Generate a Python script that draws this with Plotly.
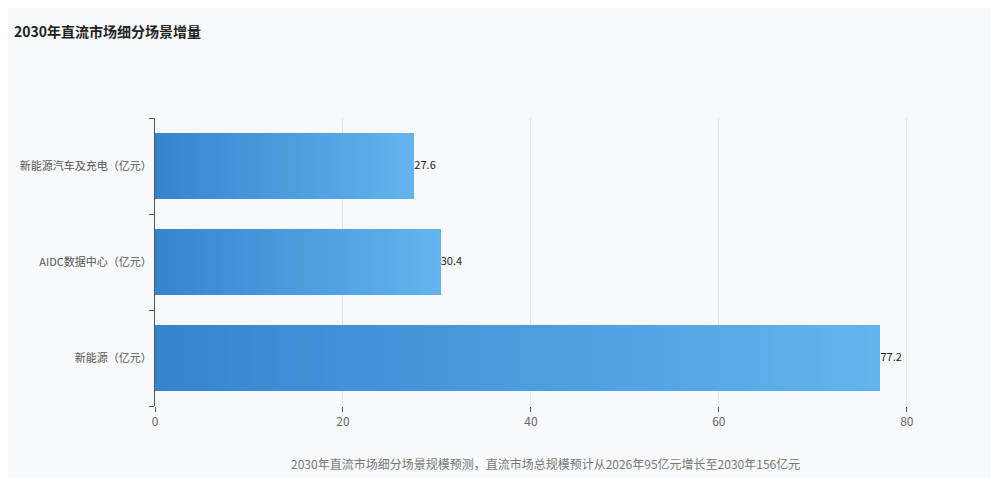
import plotly.graph_objects as go

categories = ["新能源（亿元）", "AIDC数据中心（亿元）", "新能源汽车及充电（亿元）"]
values = [77.2, 30.4, 27.6]
title = "2030年直流市场细分场景增量"
note = "2030年直流市场细分场景规模预测，直流市场总规模预计从2026年95亿元增长至2030年156亿元"

N = 60
c0 = (52, 133, 206)
c1 = (99, 179, 237)
fig = go.Figure()
for i in range(N):
    t = i / (N - 1)
    col = "rgb(%d,%d,%d)" % tuple(round(a + (b - a) * t) for a, b in zip(c0, c1))
    fig.add_trace(go.Bar(y=categories, x=[v / N for v in values], orientation="h",
                         marker=dict(color=col, line=dict(width=0)), showlegend=False,
                         hoverinfo="skip"))
fig.add_trace(go.Scatter(y=categories, x=values, mode="text", text=[str(v) for v in values],
                         textposition="middle right", textfont=dict(size=11, color="#222"),
                         showlegend=False, cliponaxis=False))
fig.update_layout(
    barmode="stack", bargap=0.31, width=999, height=478,
    paper_bgcolor="#f8f9fb", plot_bgcolor="#f8f9fb",
    margin=dict(l=139, r=72, t=110, b=80),
    font=dict(family="Noto Sans CJK SC, sans-serif", size=11, color="#555"),
    title=dict(text="<b>" + title + "</b>", x=0.006, y=0.96, xanchor="left",
               font=dict(size=14, color="#222")),
    xaxis=dict(range=[0, 83], tickvals=[0, 20, 40, 60, 80], showgrid=True, gridcolor="#e3e3e3",
               zeroline=False, ticks="outside", ticklen=5, tickcolor="#555", showline=False,
               tickfont=dict(size=12, color="#666")),
    yaxis=dict(showline=True, linecolor="#555", ticks="outside", tickson="boundaries",
               ticklen=5, tickcolor="#555", tickfont=dict(size=11, color="#555")),
    annotations=[dict(text=note, x=0.5, xref="paper", y=-0.2, yref="paper", showarrow=False,
                      font=dict(size=12, color="#777"), xanchor="center", yanchor="middle")],
)
fig.write_html("out.html")
